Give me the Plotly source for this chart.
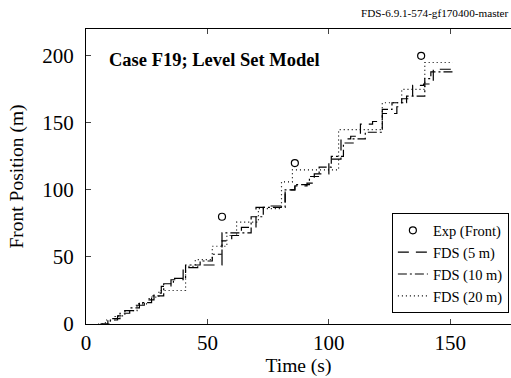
import plotly.graph_objects as go

# Experimental front positions
t_exp = [56, 86, 138]
y_exp = [80, 120, 200]

# FDS level-set front position, 5 m grid (step output)
t5 = [6, 9, 13, 16, 20, 24, 28, 31, 35, 40, 46, 56, 60, 64, 70, 76, 82, 86, 91, 94,
      100, 105, 109, 113, 118, 122, 128, 130, 134.5, 139, 143, 148, 151]
y5 = [0, 3, 6, 10, 14, 18, 23, 28, 33, 42, 44, 62, 66, 72, 87, 88, 100, 103, 105, 112,
      123, 138, 140, 149, 151, 157, 162, 168, 178, 179, 190, 190, 190]

# 10 m grid
t10 = [6, 10, 14, 18, 22, 27, 32, 36, 41, 47, 52, 56, 61, 68, 73, 82, 86, 92, 96, 101,
       106, 110, 115, 122, 126, 132, 139.5, 142, 151]
y10 = [0, 4, 8, 12, 16, 21, 30, 34, 44, 47, 52, 68, 68, 80, 87, 100, 104, 110, 117, 125,
       135, 138, 143, 160, 165, 170, 183, 188, 188]

# 20 m grid
t20 = [5, 8, 12, 16, 21, 26, 30, 41, 45, 52, 58, 62, 71, 80.5, 85, 104, 122, 130, 139.5, 151]
y20 = [0, 3, 6, 10, 15, 20, 25, 43, 48, 58, 66, 76, 86, 106, 115, 145, 165, 175, 195, 195]

x_ticks = [0, 50, 100, 150]
y_ticks = [0, 50, 100, 150, 200]

FONT = "Liberation Serif"

fig = go.Figure()
fig.add_trace(go.Scatter(
    x=t_exp, y=y_exp, mode="markers", name="Exp (Front)",
    marker=dict(symbol="circle-open", size=7, color="black", line=dict(width=1.2)),
))
fig.add_trace(go.Scatter(
    x=t5, y=y5, mode="lines", name="FDS (5 m)", line_shape="hv",
    line=dict(color="black", width=1.2, dash="11px,7px"),
))
fig.add_trace(go.Scatter(
    x=t10, y=y10, mode="lines", name="FDS (10 m)", line_shape="hv",
    line=dict(color="black", width=1.2, dash="9px,3px,2px,3px"),
))
fig.add_trace(go.Scatter(
    x=t20, y=y20, mode="lines", name="FDS (20 m)", line_shape="hv",
    line=dict(color="black", width=1.2, dash="1px,3px"),
))

fig.update_layout(
    width=511, height=378,
    margin=dict(l=86, r=0, t=29, b=54),
    paper_bgcolor="white", plot_bgcolor="white",
    font=dict(family=FONT, color="black", size=19),
    showlegend=True,
    legend=dict(
        x=0.995, y=0.036, xanchor="right", yanchor="bottom",
        bordercolor="black", borderwidth=1, bgcolor="white",
        font=dict(family=FONT, size=14.5), tracegroupgap=0,
    ),
    annotations=[
        dict(text="<b>Case F19; Level Set Model</b>", x=0.049, y=0.895,
             xref="paper", yref="paper", xanchor="left", yanchor="middle",
             showarrow=False, font=dict(family=FONT, size=18.5)),
        dict(text="FDS-6.9.1-574-gf170400-master", x=1.0, y=1.0, xref="paper",
             yref="paper", xanchor="right", yanchor="bottom", yshift=8,
             showarrow=False, font=dict(family=FONT, size=11.2)),
    ],
)

fig.update_xaxes(
    range=[0, 175], tickvals=x_ticks, ticks="inside", ticklen=5,
    showline=True, linecolor="black", linewidth=1, mirror="ticks",
    showgrid=False, zeroline=False,
    title=dict(text="Time (s)", font=dict(family=FONT, size=19.5), standoff=4),
    tickfont=dict(family=FONT, size=21),
)
fig.update_yaxes(
    range=[0, 220], tickvals=y_ticks, ticks="inside", ticklen=5,
    showline=True, linecolor="black", linewidth=1,
    showgrid=False, zeroline=False, ticklabelstandoff=7,
    title=dict(text="Front Position (m)", font=dict(family=FONT, size=19.5), standoff=13),
    tickfont=dict(family=FONT, size=21),
)

fig.write_html("out.html")
